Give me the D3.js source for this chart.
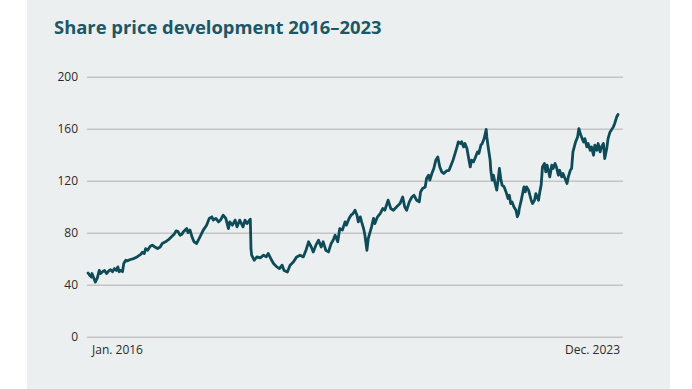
<!DOCTYPE html>
<html>
<head>
<meta charset="utf-8">
<script src="https://cdn.jsdelivr.net/npm/d3@7"></script>
<style>
  html, body { margin: 0; padding: 0; background: #ffffff; }
  svg { display: block; }
</style>
</head>
<body>
<svg id="chart" width="692" height="389"></svg>
<script>
// Share price, decimal years and price levels
const years = [
  2016.00, 2016.03, 2016.05, 2016.06, 2016.09, 2016.11, 2016.14, 2016.17, 2016.19, 2016.22,
  2016.25, 2016.28, 2016.32, 2016.34, 2016.37, 2016.40, 2016.43, 2016.45, 2016.47, 2016.49,
  2016.52, 2016.54, 2016.57, 2016.59, 2016.64, 2016.69, 2016.74, 2016.80, 2016.82, 2016.85,
  2016.87, 2016.90, 2016.94, 2016.97, 2017.01, 2017.05, 2017.09, 2017.12, 2017.17, 2017.22,
  2017.26, 2017.30, 2017.33, 2017.36, 2017.39, 2017.42, 2017.44, 2017.49, 2017.51, 2017.54,
  2017.57, 2017.60, 2017.64, 2017.69, 2017.74, 2017.79, 2017.83, 2017.87, 2017.89, 2017.93,
  2017.97, 2018.00, 2018.04, 2018.08, 2018.12, 2018.14, 2018.18, 2018.22, 2018.25, 2018.29,
  2018.34, 2018.37, 2018.40, 2018.45, 2018.46, 2018.47, 2018.51, 2018.55, 2018.60, 2018.65,
  2018.69, 2018.72, 2018.76, 2018.80, 2018.85, 2018.89, 2018.93, 2018.96, 2019.01, 2019.05,
  2019.10, 2019.15, 2019.20, 2019.25, 2019.29, 2019.33, 2019.37, 2019.40, 2019.44, 2019.48,
  2019.52, 2019.55, 2019.59, 2019.63, 2019.67, 2019.70, 2019.73, 2019.77, 2019.80, 2019.84,
  2019.88, 2019.90, 2019.94, 2019.97, 2020.00, 2020.03, 2020.06, 2020.08, 2020.11, 2020.13,
  2020.16, 2020.18, 2020.21, 2020.23, 2020.26, 2020.28, 2020.31, 2020.33, 2020.37, 2020.41,
  2020.45, 2020.48, 2020.53, 2020.57, 2020.61, 2020.66, 2020.71, 2020.75, 2020.78, 2020.81,
  2020.85, 2020.89, 2020.92, 2020.96, 2021.00, 2021.02, 2021.05, 2021.09, 2021.11, 2021.14,
  2021.16, 2021.19, 2021.22, 2021.25, 2021.28, 2021.31, 2021.34, 2021.37, 2021.41, 2021.45,
  2021.49, 2021.51, 2021.54, 2021.57, 2021.59, 2021.62, 2021.64, 2021.67, 2021.69, 2021.72,
  2021.76, 2021.77, 2021.79, 2021.82, 2021.85, 2021.88, 2021.90, 2021.93, 2021.95, 2021.98,
  2022.01, 2022.02, 2022.04, 2022.07, 2022.08, 2022.10, 2022.12, 2022.14, 2022.17, 2022.19,
  2022.21, 2022.23, 2022.25, 2022.28, 2022.31, 2022.34, 2022.36, 2022.38, 2022.40, 2022.43,
  2022.46, 2022.48, 2022.50, 2022.51, 2022.54, 2022.56, 2022.58, 2022.60, 2022.62, 2022.65,
  2022.67, 2022.69, 2022.71, 2022.74, 2022.76, 2022.78, 2022.80, 2022.82, 2022.84, 2022.86,
  2022.89, 2022.91, 2022.93, 2022.95, 2022.97, 2023.00, 2023.02, 2023.05, 2023.07, 2023.10,
  2023.12, 2023.15, 2023.17, 2023.20, 2023.23, 2023.25, 2023.28, 2023.30, 2023.32, 2023.34,
  2023.36, 2023.39, 2023.41, 2023.43, 2023.45, 2023.48, 2023.50, 2023.53, 2023.55, 2023.58,
  2023.60, 2023.63, 2023.65, 2023.68, 2023.70, 2023.73, 2023.75, 2023.78, 2023.80, 2023.83,
  2023.85, 2023.88, 2023.90, 2023.93, 2023.95, 2023.98, 2024.00
];

const prices = [
  49.0, 47.0, 46.0, 48.6, 44.8, 42.0, 45.0, 51.0, 48.6, 50.0,
  51.0, 48.6, 51.0, 51.5, 50.0, 52.4, 51.0, 53.7, 50.0, 51.0,
  50.0, 56.3, 58.8, 58.3, 59.4, 60.1, 61.4, 63.5, 65.0, 64.0,
  67.8, 66.5, 69.6, 70.4, 69.0, 67.8, 69.0, 71.7, 73.0, 74.8,
  76.8, 78.8, 81.4, 80.8, 78.0, 79.0, 80.8, 83.2, 80.0, 82.0,
  76.8, 73.0, 71.7, 76.8, 82.0, 85.8, 91.0, 92.2, 89.7, 91.0,
  88.3, 89.7, 93.5, 91.0, 83.2, 88.3, 85.8, 89.7, 84.5, 89.7,
  84.5, 89.7, 87.0, 90.4, 67.8, 62.7, 58.8, 61.4, 60.6, 62.7,
  61.4, 64.0, 60.0, 56.3, 53.7, 52.4, 55.0, 51.0, 49.8, 55.0,
  57.5, 61.4, 62.7, 61.4, 66.5, 73.0, 69.0, 65.2, 70.4, 74.2,
  69.0, 73.0, 66.5, 65.2, 71.7, 74.2, 78.0, 73.0, 83.2, 82.0,
  88.3, 85.8, 91.0, 93.5, 94.7, 97.3, 93.5, 88.3, 92.2, 88.3,
  83.2, 78.0, 66.5, 75.5, 80.8, 84.5, 91.0, 87.0, 92.2, 94.7,
  98.6, 97.3, 105.0, 98.6, 97.3, 100.0, 102.4, 107.5, 100.0, 97.3,
  103.7, 107.5, 108.8, 105.0, 103.7, 111.4, 114.0, 115.2, 121.7, 124.3,
  120.5, 125.5, 129.4, 135.8, 138.3, 130.6, 126.8, 125.5, 127.5, 128.0,
  133.2, 135.8, 140.9, 146.0, 149.8, 148.6, 150.0, 146.0, 148.6, 144.7,
  133.2, 130.6, 135.8, 134.5, 138.3, 142.2, 141.0, 147.3, 148.6, 152.4,
  159.4, 153.7, 146.0, 135.8, 128.0, 120.4, 124.3, 119.1, 112.7, 120.4,
  129.4, 121.7, 116.6, 115.4, 111.4, 106.3, 108.8, 102.4, 103.7, 99.8,
  97.3, 92.2, 94.7, 98.6, 105.0, 110.1, 115.2, 111.4, 115.2, 112.7,
  108.8, 105.0, 102.4, 105.0, 110.1, 107.5, 105.0, 111.4, 116.6, 130.6,
  133.2, 126.8, 131.9, 128.0, 122.9, 131.9, 129.4, 133.2, 130.6, 124.2,
  128.0, 122.9, 125.5, 121.7, 117.8, 122.9, 128.0, 129.4, 142.2, 146.0,
  149.8, 153.7, 160.1, 156.3, 153.7, 149.8, 152.4, 146.0, 148.6, 143.4,
  146.0, 139.6, 147.3, 143.4, 148.6, 142.2, 146.0, 148.6, 137.0, 144.7,
  152.4, 157.5, 158.9, 161.4, 164.0, 169.0, 170.9
];

const yTicks = [0, 40, 80, 120, 160, 200];
const xTickLabels = ["Jan. 2016", "Dec. 2023"];
const titleText = "Share price development 2016\u20132023";

const W = 692, H = 389;
const svg = d3.select("#chart");

// panel background
svg.append("rect")
  .attr("x", 27).attr("y", 0)
  .attr("width", 643).attr("height", H)
  .attr("fill", "#ebeff0");

svg.append("text")
  .attr("x", 54).attr("y", 34)
  .attr("font-family", "'Open Sans', sans-serif")
  .attr("font-weight", 700)
  .attr("font-size", 18.4)
  .attr("fill", "#1b5766")
  .text(titleText);

const x = d3.scaleLinear().domain([2016, 2024]).range([88, 618]);
const y = d3.scaleLinear().domain([0, 200]).range([336.7, 76.7]);
const gridX0 = 87, gridX1 = 623;

// horizontal gridlines with value labels
const yAxis = d3.axisLeft(y)
  .tickValues(yTicks)
  .tickSize(-(gridX1 - gridX0))
  .tickPadding(9)
  .tickFormat(d3.format("d"));

const yg = svg.append("g")
  .attr("transform", `translate(${gridX0},0)`)
  .call(yAxis);
yg.select(".domain").remove();
yg.selectAll(".tick line")
  .attr("stroke", "#c3c4c4")
  .attr("stroke-width", 1.4);
yg.selectAll(".tick text")
  .attr("font-family", "'Open Sans', sans-serif")
  .attr("font-size", 12)
  .attr("fill", "#2b2b2b");

// first and last period labels on the time axis
const xLab = svg.append("g")
  .attr("font-family", "'Open Sans', sans-serif")
  .attr("font-size", 12)
  .attr("fill", "#2b2b2b");
xLab.append("text")
  .attr("x", x(2016) + 4).attr("y", 354)
  .attr("text-anchor", "start")
  .text(xTickLabels[0]);
xLab.append("text")
  .attr("x", x(2024) + 2).attr("y", 354)
  .attr("text-anchor", "end")
  .text(xTickLabels[1]);

// price line
const series = years.map((t, i) => ({ t, v: prices[i] }));
svg.append("path")
  .datum(series)
  .attr("fill", "none")
  .attr("stroke", "#0e4b58")
  .attr("stroke-width", 2.8)
  .attr("stroke-linejoin", "round")
  .attr("stroke-linecap", "round")
  .attr("d", d3.line().x(d => x(d.t)).y(d => y(d.v)));
</script>
</body>
</html>
